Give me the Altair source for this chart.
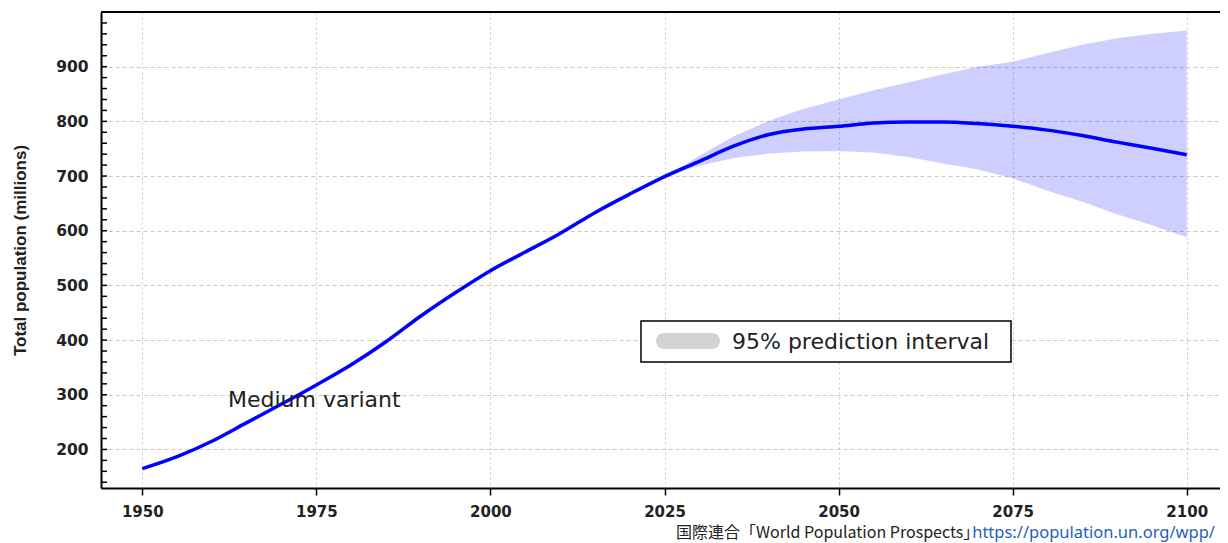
import altair as alt
import pandas as pd

# ---- data ----
years = [1950, 1955, 1960, 1965, 1970, 1975, 1980, 1985, 1990, 1995, 2000,
         2005, 2010, 2015, 2020, 2025, 2030, 2035, 2040, 2045, 2050, 2055,
         2060, 2065, 2070, 2075, 2080, 2085, 2090, 2095, 2100]
medium = [165, 187, 215, 249, 283, 318, 355, 397, 444, 487, 527,
          561, 595, 633, 667, 699, 727, 755, 776, 786, 791, 797,
          799, 799, 796, 791, 784, 774, 762, 751, 739]

band_years = [2023, 2025, 2028, 2030, 2035, 2040, 2045, 2050, 2055, 2060,
              2065, 2070, 2075, 2080, 2085, 2090, 2095, 2100]
band_lower = [688, 696, 711, 719, 733, 741, 745, 746, 743, 735,
              723, 712, 696, 673, 653, 630, 610, 588]
band_upper = [688, 703, 721, 737, 773, 801, 823, 840, 857, 871,
              886, 900, 909, 925, 940, 952, 960, 966]

x_ticks = [1950, 1975, 2000, 2025, 2050, 2075, 2100]
y_labels = [200, 300, 400, 500, 600, 700, 800, 900]
y_minor = [140, 160, 180, 200, 220, 240, 260, 280, 300, 320, 340, 360, 380,
           400, 420, 440, 460, 480, 500, 520, 540, 560, 580, 600, 620, 640,
           660, 680, 700, 720, 740, 760, 780, 800, 820, 840, 860, 880, 900,
           920, 940, 960, 980]

y_title = "Total population (millions)"
line_label = "Medium variant"
legend_label = "95% prediction interval"
source_text = "国際連合「World Population Prospects」"
source_url = "https://population.un.org/wpp/"

df_med = pd.DataFrame({"year": years, "value": medium})
df_band = pd.DataFrame({"year": band_years, "lower": band_lower, "upper": band_upper})
df_minor = pd.DataFrame({"v": y_minor})
df_ann = pd.DataFrame({"year": [1962.3], "value": [290], "label": [line_label]})
df_one = pd.DataFrame({"a": [0]})

W, H = 1119, 476
xs = alt.Scale(domain=[1944.07, 2104.78], nice=False, zero=False)
ys = alt.Scale(domain=[129.5, 1000], nice=False, zero=False)

label_font = "DejaVu Sans"
x_axis = alt.Axis(values=x_ticks, title=None, format="d", grid=True,
                  gridColor="#C8C8C8", gridDash=[2, 3], gridWidth=1,
                  domainColor="black", domainWidth=2, ticks=True,
                  tickColor="black", tickSize=7, tickWidth=1.5,
                  labelFont=label_font, labelFontWeight="bold",
                  labelFontSize=15, labelColor="#222", labelPadding=9)
y_axis = alt.Axis(values=y_labels, title=y_title, grid=True,
                  gridColor="#C8C8C8", gridDash=[4, 3], gridWidth=1,
                  domainColor="black", domainWidth=2, ticks=False,
                  labelFont=label_font, labelFontWeight="bold",
                  labelFontSize=15.5, labelColor="#222", labelPadding=13,
                  titleFont="Liberation Sans", titleFontSize=17,
                  titleFontWeight="bold", titleColor="#222",
                  titleX=-81, titleY=238, titleAngle=270,
                  titleAlign="center", titleBaseline="middle")

band = alt.Chart(df_band).mark_area(color="#0000FF", opacity=0.19).encode(
    x=alt.X("year:Q", scale=xs, axis=x_axis),
    y=alt.Y("lower:Q", scale=ys, axis=y_axis),
    y2="upper:Q",
)

line = alt.Chart(df_med).mark_line(color="#0000FF", strokeWidth=3.5,
                                   interpolate="monotone").encode(
    x=alt.X("year:Q", scale=xs),
    y=alt.Y("value:Q", scale=ys),
)

minor = alt.Chart(df_minor).mark_rule(color="black", strokeWidth=1.5).encode(
    y=alt.Y("v:Q", scale=ys),
    x=alt.value(0), x2=alt.value(6),
)

top_border = alt.Chart(df_one).mark_rule(color="black", strokeWidth=2).encode(
    x=alt.value(0), x2=alt.value(W), y=alt.value(0)
)

ann = alt.Chart(df_ann).mark_text(align="left", baseline="middle",
                                  font=label_font, fontSize=22,
                                  color="#222").encode(
    x=alt.X("year:Q", scale=xs), y=alt.Y("value:Q", scale=ys), text="label:N"
)

legend_box = alt.Chart(df_one).mark_rect(fill="white", stroke="black",
                                         strokeWidth=1.5).encode(
    x=alt.value(540), x2=alt.value(910), y=alt.value(309), y2=alt.value(350)
)
legend_swatch = alt.Chart(df_one).mark_rect(fill="#D3D3D3", cornerRadius=8).encode(
    x=alt.value(555), x2=alt.value(619), y=alt.value(321), y2=alt.value(337)
)
legend_text = alt.Chart(df_one).mark_text(align="left", baseline="middle",
                                          font=label_font, fontSize=22,
                                          color="#222").encode(
    x=alt.value(631), y=alt.value(330), text=alt.value(legend_label)
)

src1 = alt.Chart(df_one).mark_text(align="left", baseline="middle",
                                   font="Noto Sans CJK JP", fontSize=16,
                                   color="#222").encode(
    x=alt.value(575), y=alt.value(521), text=alt.value(source_text)
)
src2 = alt.Chart(df_one).mark_text(align="right", baseline="middle",
                                   font="Noto Sans", fontSize=16.5,
                                   color="#1F5FBF").encode(
    x=alt.value(1114), y=alt.value(521), text=alt.value(source_url)
)

chart = alt.layer(
    band, line, minor, top_border, ann,
    legend_box, legend_swatch, legend_text, src1, src2
).properties(
    width=W, height=H,
    autosize=alt.AutoSizeParams(type="none"),
    padding={"left": 93, "top": 4, "right": 0, "bottom": 55},
).configure_view(stroke=None).configure(background="white")

chart.save("out.html", embed_options={"renderer": "svg", "actions": False})
